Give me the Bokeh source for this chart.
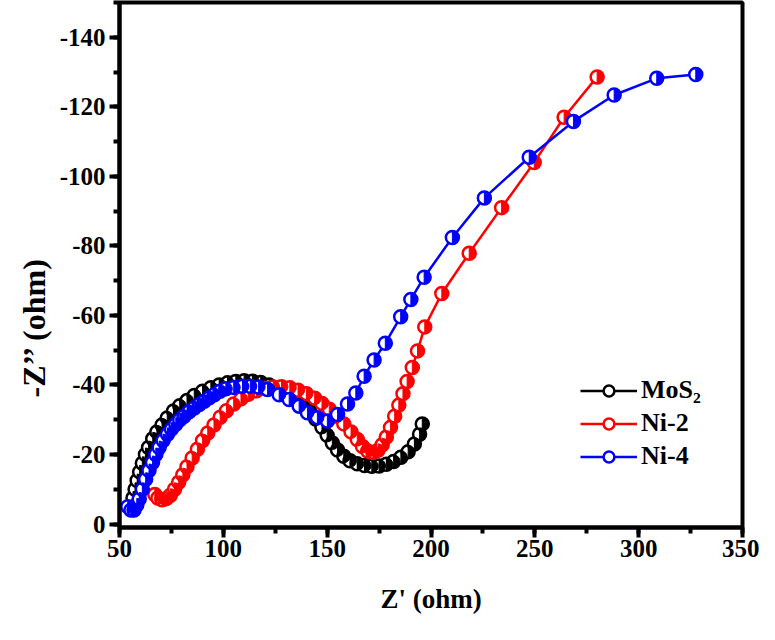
import math
from bokeh.plotting import figure
from bokeh.models import Range1d, SingleIntervalTicker, Legend, LegendItem, Title
from bokeh.embed import file_html
from bokeh.resources import INLINE

# ---- data ----
mos2_x = [55.5, 56.5, 57.5, 58.5, 59.7, 61, 62.5, 64, 66, 68,
          70.5, 73, 76, 79, 82.5, 86, 90, 94, 98, 102,
          106, 110, 114, 118, 122, 126, 130, 134, 138, 141.5,
          144.5, 147.5, 150, 152.5, 155, 158, 161, 164.5, 168, 171.5,
          175, 178.5, 182, 185.5, 189, 192, 194.5, 195.8]
mos2_y = [-5, -7.5, -10, -12.5, -15, -17.5, -20, -22, -24.5, -26.5,
          -28.5, -30.5, -32.5, -34, -35.5, -37, -38.2, -39.2, -40, -40.6,
          -41, -41.2, -41.1, -40.7, -40, -39, -37.8, -36.3, -34.5, -32.5,
          -30.2, -27.8, -25.5, -23.3, -21.3, -19.5, -18.2, -17.3, -16.8, -16.6,
          -16.7, -17.2, -18, -19.2, -20.8, -23, -25.8, -28.8]

ni2_x = [67, 68.5, 70.5, 72.5, 74.5, 76.5, 78.5, 80.5, 82.5, 85,
         87.5, 90, 92.5, 95.5, 98.5, 101.5, 105, 108.5, 112, 116,
         120, 124, 128, 132, 136, 140, 144, 147.5, 151, 154.5,
         158, 161.5, 164.5, 167, 169.5, 172, 174.5, 176.5, 178.5, 180.5,
         182.5, 184.5, 186.5, 188.5, 191, 193.5, 197, 205.2, 218.4, 234,
         249.7, 264.1, 280]
ni2_y = [-8.5, -7.5, -7, -7.3, -8.3, -10, -12, -14.2, -16.5, -19,
         -21.5, -24, -26.2, -28.5, -30.7, -32.6, -34.5, -36, -37.3, -38.3,
         -39, -39.4, -39.5, -39.2, -38.5, -37.5, -36.2, -34.7, -33, -31,
         -28.8, -26.5, -24.3, -22.3, -21, -20.6, -21.2, -22.8, -25, -27.8,
         -31, -34.2, -37.5, -41, -45, -49.8, -56.7, -66.3, -77.9, -91,
         -104, -117, -128.6]

ni4_x = [54, 55.5, 57, 58.3, 59.5, 61, 62.6, 64.2, 65.9, 67.5,
         69.1, 71, 73.1, 75, 77.1, 79, 81.1, 83.5, 86, 88.4,
         90.8, 93.2, 95.6, 98.4, 101.2, 105, 109.2, 113, 117, 121.3,
         126.9, 131.7, 136.5, 140.5, 145.3, 150.1, 155, 159.8, 163.8, 167.8,
         172.6, 178, 185.4, 190.3, 196.7, 210.3, 225.7, 247.3, 268.6, 288.2,
         308.7, 327.5]
ni4_y = [-5, -4, -4, -5.5, -7.2, -10, -12.9, -15.4, -17.7, -20,
         -22, -24, -25.8, -27.3, -28.7, -30, -31, -32.3, -33.4, -34.4,
         -35.3, -36.3, -37.2, -38.2, -38.9, -39.3, -39.6, -39.6, -39.4, -38.7,
         -37.2, -35.8, -33.9, -32, -30.6, -29.6, -31.5, -34.5, -37.7, -42.5,
         -47.2, -52, -59.6, -64.6, -71, -82.4, -93.8, -105.5, -115.8, -123.4,
         -128.2, -129.3]

series_names = ["MoS\u2082", "Ni-2", "Ni-4"]
series_colors = ["#000000", "#ff0000", "#0000ff"]
series_x = [mos2_x, ni2_x, ni4_x]
series_y = [mos2_y, ni2_y, ni4_y]

x_ticks = [50, 100, 150, 200, 250, 300, 350]
x_tick_labels = ["50", "100", "150", "200", "250", "300", "350"]
y_ticks = [0, -20, -40, -60, -80, -100, -120, -140]
y_tick_labels = ["0", "-20", "-40", "-60", "-80", "-100", "-120", "-140"]

x_label = "Z' (ohm)"
y_label = "-Z\u2019\u2019 (ohm)"

FONT = "Liberation Serif"

p = figure(width=759, height=624, output_backend="svg", toolbar_location=None,
           x_range=Range1d(50, 350), y_range=Range1d(1, -150),
           min_border_left=119, min_border_right=17, min_border_top=2,
           min_border_bottom=97)
p.grid.visible = False
p.outline_line_color = "black"
p.outline_line_width = 4
p.outline_line_alpha = 1
p.background_fill_color = "white"
p.border_fill_color = "white"

xa = p.xaxis[0]
xa.ticker = SingleIntervalTicker(interval=50, num_minor_ticks=2)
xa.major_label_overrides = {t: s for t, s in zip(x_ticks, x_tick_labels)}
xa.axis_label = x_label
ya = p.yaxis[0]
ya.ticker = SingleIntervalTicker(interval=20, num_minor_ticks=2)
ya.major_label_overrides = {t: s for t, s in zip(y_ticks, y_tick_labels)}

for ax in (xa, ya):
    ax.axis_line_width = 4
    ax.axis_line_color = "black"
    ax.major_tick_line_width = 4
    ax.major_tick_out = 10
    ax.major_tick_in = 0
    ax.minor_tick_line_width = 4
    ax.minor_tick_out = 6
    ax.minor_tick_in = 0
    ax.major_label_text_font = FONT
    ax.major_label_text_font_style = "bold"
    ax.major_label_text_font_size = "25px"
    ax.major_label_text_color = "black"
    ax.axis_label_text_font = FONT
    ax.axis_label_text_font_style = "bold"
    ax.axis_label_text_color = "black"

xa.major_label_standoff = 2
xa.axis_label_text_font_size = "27px"
xa.axis_label_standoff = 24
ya.major_label_standoff = 4

p.add_layout(Title(text=y_label, align="left", offset=130, text_font=FONT,
                   text_font_style="bold", text_font_size="32px",
                   text_color="black", standoff=8, vertical_align="middle"),
             "left")

items = []
for name, color, xs, ys in zip(series_names, series_colors, series_x, series_y):
    ln = p.line(xs, ys, line_color=color, line_width=2.5)
    circ = p.scatter(xs, ys, marker="circle", size=13, fill_color="white",
                     line_color=color, line_width=2.5)
    p.wedge(xs, ys, radius=6.5, radius_units="screen", start_angle=-math.pi / 2,
            end_angle=math.pi / 2, fill_color=color, line_color=color, line_width=1)
    items.append(LegendItem(label=name, renderers=[ln, circ]))

legend = Legend(items=items, location=(461, 56), padding=0, margin=0,
                spacing=3, glyph_width=57, glyph_height=27, label_height=27,
                label_standoff=4, border_line_alpha=0, background_fill_alpha=0,
                label_text_font=FONT, label_text_font_style="bold",
                label_text_font_size="26px", label_text_color="black")
p.add_layout(legend, "center")

open("out.html", "w").write(file_html(p, INLINE))
